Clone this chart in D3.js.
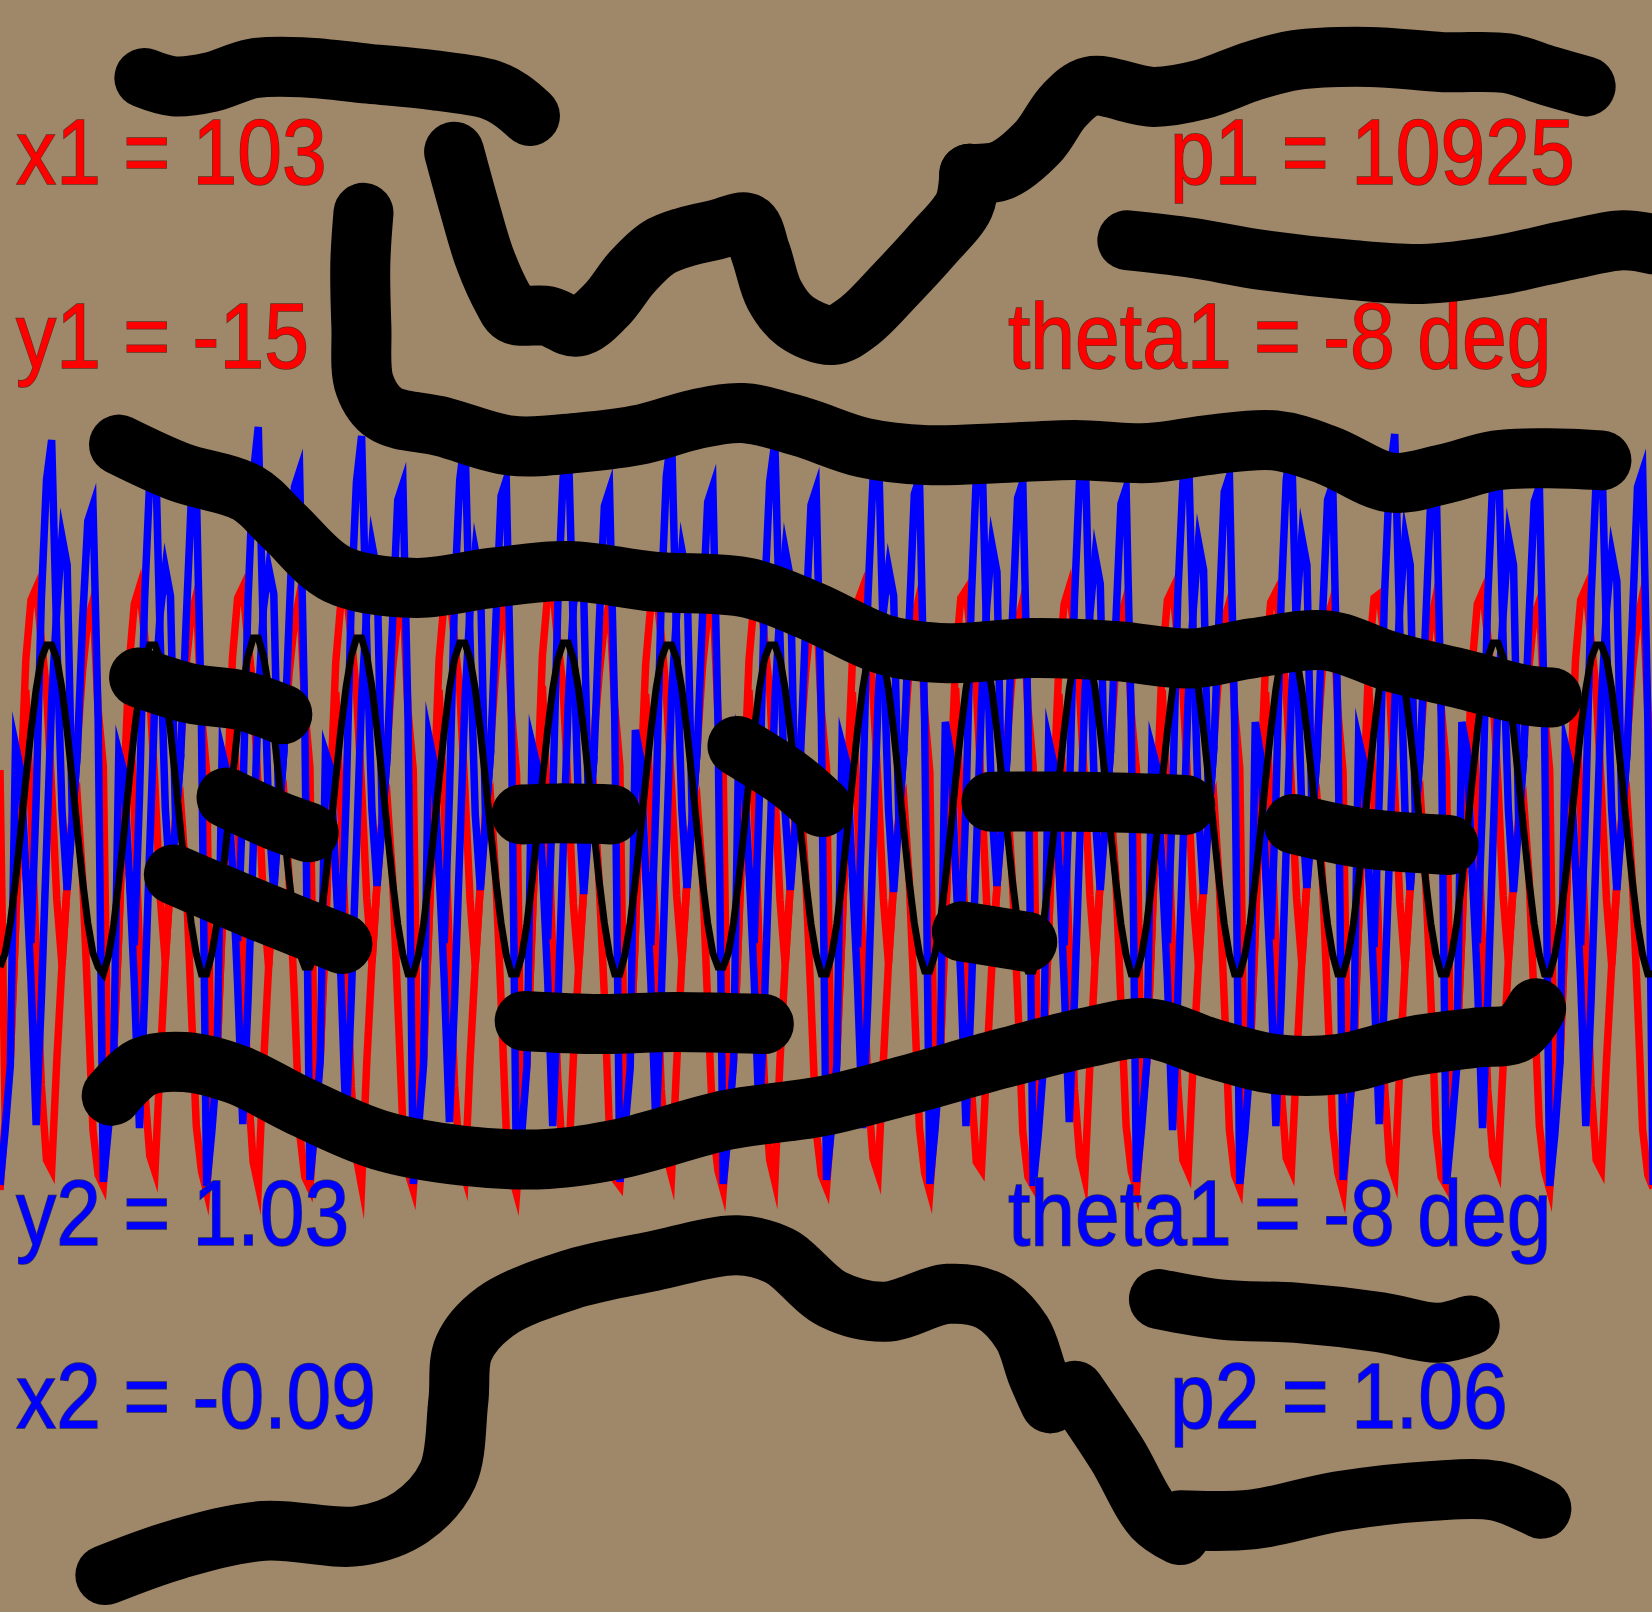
<!DOCTYPE html>
<html>
<head>
<meta charset="utf-8">
<script src="https://cdn.jsdelivr.net/npm/d3@7"></script>
<style>
  html, body { margin: 0; padding: 0; background: #9f8769; }
  svg { display: block; }
  text { font-family: "Liberation Sans", Arial, sans-serif; paint-order: stroke fill; }
</style>
</head>
<body>
<svg class="chart"></svg>
<script>
// data: signal values, offset from the middle line, one row per cycle
var blueLower = [
  -379,-324,-259,61,36,-64,-174,-319,-194,-44,106,196,269,241,-14,56,186,285,301,86,
  -376,-322,-256,54,34,-66,-176,-322,-190,-40,110,192,238,210,-18,52,180,302,318,82,
  -380,-326,-260,54,32,-62,-178,-318,-196,-46,104,198,238,212,-12,58,190,319,335,88,
  -374,-320,-254,54,38,-68,-172,-320,-192,-42,108,194,262,234,-16,54,184,306,322,84,
  -378,-324,-258,70,44,-64,-174,-316,-194,-44,106,196,256,228,-14,56,186,310,326,86,
  -380,-328,-260,62,40,-60,-170,-320,-198,-48,102,200,240,212,-20,50,182,300,316,90,
  -376,-322,-262,76,48,-66,-176,-324,-190,-40,110,192,256,228,-12,60,190,304,320,82,
  -378,-326,-256,60,36,-62,-174,-318,-194,-44,106,196,256,228,-16,54,186,301,317,86,
  -374,-320,-258,62,42,-68,-178,-322,-196,-42,108,194,238,210,-14,58,184,312,328,84,
  -378,-324,-254,84,54,-64,-172,-320,-192,-46,104,198,262,234,-18,52,188,308,324,88,
  -380,-328,-260,66,42,-60,-176,-316,-194,-40,110,192,250,222,-14,56,182,302,318,82,
  -376,-322,-256,58,38,-66,-174,-324,-190,-44,106,196,264,236,-12,60,190,314,330,86,
  -378,-326,-258,84,52,-62,-170,-320,-198,-42,108,194,269,241,-16,54,186,306,322,84,
  -374,-320,-254,67,44,-68,-178,-318,-192,-48,102,200,269,241,-14,58,184,310,326,90,
  -378,-324,-262,84,56,-64,-174,-322,-194,-40,110,192,269,241,-18,52,188,304,320,82,
  -380,-328,-256,62,40,-60,-176,-320,-196,-44,106,196,253,225,-14,56,186,319,335,86,
  -379
];
// the tall spike of each cycle, cycle index 5 to 15
var blueSpikes = [
  [-64,-137,6,206,326,366,166,-4,-84,-14,56],
  [-66,-139,8,208,328,373,170,-2,-82,-18,52],
  [-62,-135,4,204,330,379,168,-6,-86,-12,58],
  [-68,-141,6,206,324,370,164,-4,-80,-16,54],
  [-64,-137,10,210,326,368,166,-8,-84,-14,56],
  [-60,-133,6,204,328,366,172,-2,-88,-20,50],
  [-66,-139,4,206,330,372,162,-4,-82,-12,60],
  [-62,-137,8,208,324,364,168,-6,-84,-16,54],
  [-68,-141,6,206,326,368,166,-4,-86,-14,58],
  [-64,-135,2,202,330,374,170,-2,-80,-18,52],
  [-60,-139,6,206,328,366,164,-8,-84,-14,56],
  [-66,-137,10,210,324,370,168,-4,-88,-12,60],
  [-62,-133,6,204,326,368,166,-2,-82,-16,54],
  [-68,-141,8,208,330,372,172,-6,-84,-14,58],
  [-64,-137,4,206,328,366,162,-4,-86,-18,52],
  [-60,-139,6,206,326,370,168,-4,-84,-14,56]
];
var redLower = [
  -384,-314,-252,-124,16,116,-4,-144,-279,-354,-364,-254,-159,-79,-9,6,-74,-194,-324,-369,
  -380,-310,-248,-128,20,112,-8,-140,-283,-350,-366,-258,-155,-75,-13,2,-70,-198,-320,-365,
  -386,-316,-254,-120,14,118,-2,-146,-277,-356,-380,-260,-161,-81,-7,8,-76,-192,-326,-371,
  -382,-312,-250,-126,18,114,-6,-142,-281,-352,-380,-256,-157,-77,-11,4,-72,-196,-322,-367,
  -384,-314,-252,-124,16,116,-4,-144,-279,-354,-372,-254,-159,-79,-9,6,-74,-194,-324,-369,
  -388,-318,-256,-122,12,120,0,-148,-275,-358,-366,-252,-163,-83,-5,10,-78,-190,-328,-373,
  -380,-310,-248,-128,20,112,-8,-140,-283,-350,-370,-258,-155,-75,-13,2,-70,-198,-320,-365,
  -384,-314,-254,-124,16,116,-4,-144,-279,-354,-376,-254,-159,-79,-9,6,-74,-194,-324,-369,
  -382,-312,-250,-126,18,114,-6,-142,-281,-352,-368,-256,-157,-77,-11,4,-72,-196,-322,-367,
  -386,-316,-252,-120,14,118,-2,-146,-277,-356,-364,-260,-161,-81,-7,8,-76,-192,-326,-371,
  -380,-310,-248,-128,20,112,-8,-140,-283,-350,-372,-258,-155,-75,-13,2,-70,-198,-320,-365,
  -384,-314,-254,-124,16,116,-4,-144,-279,-354,-366,-254,-159,-79,-9,6,-74,-194,-324,-369,
  -382,-312,-250,-126,18,114,-6,-142,-281,-352,-364,-256,-157,-77,-11,4,-72,-196,-322,-367,
  -386,-316,-256,-120,14,118,-2,-146,-277,-356,-372,-260,-161,-81,-7,8,-76,-192,-326,-371,
  -380,-310,-248,-128,20,112,-8,-140,-283,-350,-364,-258,-155,-75,-13,2,-70,-198,-320,-365,
  -384,-314,-252,-124,16,116,-4,-144,-279,-354,-364,-254,-159,-79,-9,6,-74,-194,-324,-369,
  -382
];
var redUpper = [
  36,-314,-252,-124,16,146,206,218,166,116,16,-94,-159,-79,-9,66,136,186,205,96,
  40,-310,-248,-128,20,142,202,219,170,112,20,-90,-155,-75,-13,62,140,190,211,92,
  34,-316,-254,-120,14,148,208,219,164,118,14,-96,-161,-81,-7,68,134,184,211,98,
  38,-312,-250,-126,18,144,204,216,168,114,18,-92,-157,-77,-11,64,138,188,208,94,
  36,-314,-252,-124,16,146,206,214,166,116,16,-94,-159,-79,-9,66,136,186,206,96,
  32,-318,-256,-122,12,150,210,218,162,120,12,-98,-163,-83,-5,70,132,182,204,100,
  40,-310,-248,-128,20,142,202,217,170,112,20,-90,-155,-75,-13,62,140,190,210,92,
  36,-314,-254,-124,16,146,206,220,166,116,16,-94,-159,-79,-9,66,136,186,207,96,
  38,-312,-250,-126,18,144,204,218,168,114,18,-92,-157,-77,-11,64,138,188,211,94,
  34,-316,-252,-120,14,148,208,216,164,118,14,-96,-161,-81,-7,68,134,184,205,98,
  40,-310,-248,-128,20,142,202,219,170,112,20,-90,-155,-75,-13,62,140,190,208,92,
  36,-314,-254,-124,16,146,206,217,166,116,16,-94,-159,-79,-9,66,136,186,204,96,
  38,-312,-250,-126,18,144,204,214,168,114,18,-92,-157,-77,-11,64,138,188,206,94,
  34,-316,-256,-120,14,148,208,212,164,118,14,-96,-161,-81,-7,68,134,184,210,98,
  40,-310,-248,-128,20,142,202,214,170,112,20,-90,-155,-75,-13,62,140,190,205,92,
  36,-314,-252,-124,16,146,206,218,166,116,16,-94,-159,-79,-9,66,136,186,211,96,
  36
];
var blackValues = [
  -161,-147,-117,-75,-26,26,75,117,147,161,161,147,117,75,26,-26,-75,-117,-147,-161,
  -168,-150,-119,-76,-27,25,74,116,147,161,161,147,117,75,26,-26,-75,-117,-148,-168,
  -168,-148,-117,-75,-26,27,77,119,150,168,168,150,119,76,27,-25,-74,-116,-147,-161,
  -161,-147,-117,-75,-26,27,77,119,150,168,168,150,119,76,27,-26,-75,-118,-149,-168,
  -168,-149,-118,-75,-26,26,75,117,147,163,163,147,117,75,26,-26,-75,-117,-149,-168,
  -168,-150,-118,-75,-26,26,75,117,147,163,163,147,117,75,26,-26,-75,-117,-149,-168,
  -168,-148,-117,-75,-26,26,75,117,147,161,161,147,117,75,26,-26,-75,-117,-147,-161,
  -161,-147,-117,-75,-26,26,75,117,147,161,161,147,117,75,26,-26,-75,-118,-149,-168,
  -168,-149,-118,-75,-26,26,75,117,148,165,165,148,117,75,26,-26,-75,-117,-148,-165,
  -165,-148,-117,-75,-26,26,75,117,148,165,165,148,117,75,26,-26,-75,-117,-148,-165,
  -165,-148,-117,-75,-26,26,75,117,148,165,165,148,117,75,26,-26,-75,-118,-149,-168,
  -168,-149,-118,-75,-26,26,75,117,148,165,165,148,117,75,26,-26,-75,-118,-149,-168,
  -168,-149,-118,-75,-26,26,75,117,148,165,165,148,117,75,26,-26,-75,-118,-149,-168,
  -168,-149,-118,-75,-26,26,75,117,148,165,165,148,117,75,26,-26,-75,-118,-149,-168,
  -168,-149,-118,-75,-26,26,75,117,148,163,163,148,117,75,26,-26,-75,-118,-149,-168,
  -168,-149,-118,-75,-26,26,75,117,147,161,161,147,117,75,26,-26,-75,-118,-149,-168,
  -168
];

var redLabels = ['x1 = 103', 'y1 = -15', 'p1 = 10925', 'theta1 = -8 deg'];
var blueLabels = ['y2 = 1.03', 'x2 = -0.09', 'theta1 = -8 deg', 'p2 = 1.06'];

// pen strokes drawn over the plot, in picture units
var penStrokes = [
  [[137,74],[165,82],[200,78],[240,65],[290,64],[350,70],[410,76],[465,85],[485,95],[503,110]],
  [[431,144],[445,195],[460,245],[478,285],[487,298],[520,300],[548,310],[575,290],[600,258],[625,235],[650,225],[680,218],[710,212],[722,240],[735,280],[755,305],[790,318],[815,305],[850,270],[885,232],[915,195],[920,165]],
  [[920,165],[950,162],[985,135],[1010,100],[1035,82],[1095,92],[1140,85],[1190,67],[1230,57],[1300,54],[1370,59],[1430,60],[1470,72],[1505,82]],
  [[1070,228],[1130,235],[1200,247],[1280,256],[1350,260],[1420,252],[1490,237],[1540,228],[1570,232]],
  [[345,202],[342,250],[343,310],[346,365],[365,392],[420,405],[485,423],[550,420],[610,412],[660,398],[705,392],[760,405],[820,425],[880,432],[950,430],[1020,427],[1090,430],[1150,422],[1210,418],[1260,432],[1320,458],[1370,450],[1420,437],[1470,435],[1520,437]],
  [[113,422],[170,448],[235,468],[270,500],[320,545],[395,558],[470,548],[540,542],[620,552],[710,558],[770,580],[840,612],[900,620],[980,615],[1060,618],[1130,625],[1190,615],[1260,608],[1320,628],[1390,645],[1450,660],[1473,662]],
  [[132,643],[180,658],[230,665],[268,678]],
  [[215,757],[260,778],[293,790]],
  [[165,830],[240,862],[325,896]],
  [[495,773],[530,772],[580,773]],
  [[700,708],[750,740],[780,766]],
  [[941,761],[1030,761],[1125,764]],
  [[1228,782],[1290,795],[1375,802]],
  [[913,884],[975,894]],
  [[498,969],[570,972],[640,970],[725,972]],
  [[106,1040],[135,1013],[175,1008],[225,1020],[285,1050],[360,1082],[440,1097],[520,1100],[590,1090],[690,1063],[780,1050],[860,1030],[950,1005],[1030,985],[1090,976],[1150,995],[1210,1010],[1270,1010],[1340,993],[1400,985],[1440,980],[1458,957]],
  [[1100,1233],[1160,1243],[1230,1246],[1310,1255],[1365,1265],[1395,1258]],
  [[100,1495],[170,1470],[250,1453],[340,1458],[390,1440],[425,1400],[435,1330],[440,1280],[470,1245],[540,1215],[620,1197],[700,1182],[740,1192],[790,1233],[840,1245],[900,1228],[940,1235],[970,1265],[985,1305],[997,1332]],
  [[1020,1320],[1060,1380],[1095,1440],[1120,1457]],
  [[1120,1443],[1190,1442],[1270,1425],[1360,1415],[1420,1415],[1463,1432]]
];

// chart
var width = 1652;
var height = 1612;

var chart = d3.select('.chart')
    .attr('width', width)
    .attr('height', height);

chart.append('rect')
    .attr('width', width)
    .attr('height', height)
    .attr('fill', '#9f8769');

var x = d3.scaleLinear()
    .domain([0, 320])
    .range([0, 1653]);

var y = d3.scaleLinear()
    .domain([-806, 806])
    .range([height, 0]);

var sketchX = d3.scaleLinear().domain([0, 1568]).range([0, width]);
var sketchY = d3.scaleLinear().domain([0, 1530]).range([0, height]);

var signalLine = d3.line()
    .x(function(d, i) {return x(i);})
    .y(function(d) {return y(d);});

var penLine = d3.line()
    .x(function(d) {return sketchX(d[0]);})
    .y(function(d) {return sketchY(d[1]);})
    .curve(d3.curveCatmullRom);

function drawSignal(d, color, w) {
  return chart.append('path')
      .attr('d', d)
      .attr('fill', 'none')
      .attr('stroke', color)
      .attr('stroke-width', w)
      .attr('stroke-linejoin', 'miter')
      .attr('stroke-miterlimit', 10);
}

// draw signals
drawSignal(signalLine(redLower), '#ff0000', 7.5);
drawSignal(signalLine(redUpper), '#ff0000', 7.5);
drawSignal(signalLine(blueLower), '#0000ff', 7.5);
blueSpikes.forEach(function(row, k) {
  var spikeLine = d3.line()
      .x(function(d, j) {return x(20*k + 5 + j);})
      .y(function(d) {return y(d);});
  drawSignal(spikeLine(row), '#0000ff', 7.5);
});
drawSignal(signalLine(blackValues), '#000000', 7);

// labels
var labelX = [16, 16, 1170, 1008];
var labelY = [184, 368, 184, 368];
var blueX = [16, 16, 1008, 1170];
var blueY = [1245, 1428, 1245, 1428];

function drawLabels(labels, xs, ys, color, edge) {
  chart.selectAll(null)
      .data(labels)
    .enter().append('text')
      .attr('transform', function(d, i) {
        return 'translate(' + xs[i] + ',' + ys[i] + ') scale(0.865,1)';
      })
      .attr('font-size', 93)
      .attr('fill', color)
      .attr('stroke', edge)
      .attr('stroke-width', 1.5)
      .text(function(d) {return d;});
}
drawLabels(redLabels, labelX, labelY, '#ff0000', '#6a2a1c');
drawLabels(blueLabels, blueX, blueY, '#0000ff', '#2a2a5c');

// pen strokes
chart.selectAll('.pen')
    .data(penStrokes)
  .enter().append('path')
    .attr('class', 'pen')
    .attr('d', penLine)
    .attr('fill', 'none')
    .attr('stroke', '#000')
    .attr('stroke-width', 60)
    .attr('stroke-linecap', 'round')
    .attr('stroke-linejoin', 'round');
</script>
</body>
</html>
